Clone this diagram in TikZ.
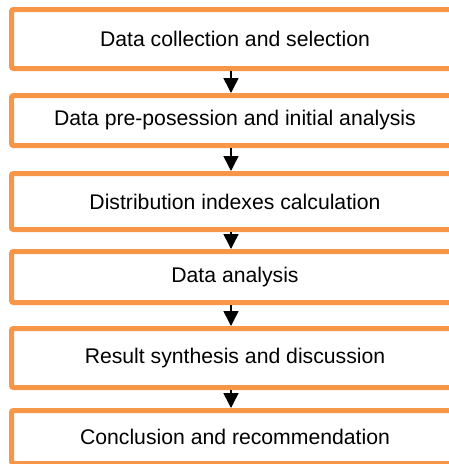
\documentclass[tikz,border=0pt]{standalone}
\usepackage{fontspec}
\setmainfont{Liberation Sans}
\usetikzlibrary{arrows.meta,positioning}
\definecolor{boxorange}{HTML}{F79646}

\begin{document}
\begin{tikzpicture}[x=1pt, y=-1pt, font=\fontsize{21.2}{25}\selectfont,
  >={Triangle[length=15pt,width=15pt]},
  stage/.style={minimum width=447pt, inner sep=0pt, outer sep=0pt,
                align=center},
  frame/.style={draw=boxorange, line width=5pt, rounded corners=2pt},
  flow/.style={->, line width=1.5pt, black}]

\useasboundingbox (0,0) rectangle (449,464);
\clip (0,0) rectangle (449,464);

% Ablauf von oben nach unten
\node[stage, minimum height=59pt] (collect)  at (235,39)    {Data collection and selection};
\node[stage, minimum height=50pt] (preproc)  at (235,120.5) {Data pre-posession and initial analysis};
\node[stage, minimum height=56pt] (indexes)  at (235,201.5) {Distribution indexes calculation};
\node[stage, minimum height=51pt] (analysis) at (235,277)   {Data analysis};
\node[stage, minimum height=59pt] (synth)    at (235,358)   {Result synthesis and discussion};
\node[stage, minimum height=53pt] (concl)    at (235,437)   {Conclusion and recommendation};

% Rahmen laufen rechts aus dem Bild
\foreach \s in {collect,preproc,indexes,analysis,synth,concl}
  \draw[frame] (\s.south west) rectangle ([xshift=40pt]\s.north east);

\draw[flow] ([xshift=-4pt,yshift=-2.5pt]collect.south)  -- ([xshift=-4pt,yshift=2.5pt]preproc.north);
\draw[flow] ([xshift=-4pt,yshift=-2.5pt]preproc.south)  -- ([xshift=-4pt,yshift=2.5pt]indexes.north);
\draw[flow] ([xshift=-4pt,yshift=-2.5pt]indexes.south)  -- ([xshift=-4pt,yshift=2.5pt]analysis.north);
\draw[flow] ([xshift=-4pt,yshift=-2.5pt]analysis.south) -- ([xshift=-4pt,yshift=2.5pt]synth.north);
\draw[flow] ([xshift=-4pt,yshift=-2.5pt]synth.south)    -- ([xshift=-4pt,yshift=2.5pt]concl.north);
\end{tikzpicture}
\end{document}
